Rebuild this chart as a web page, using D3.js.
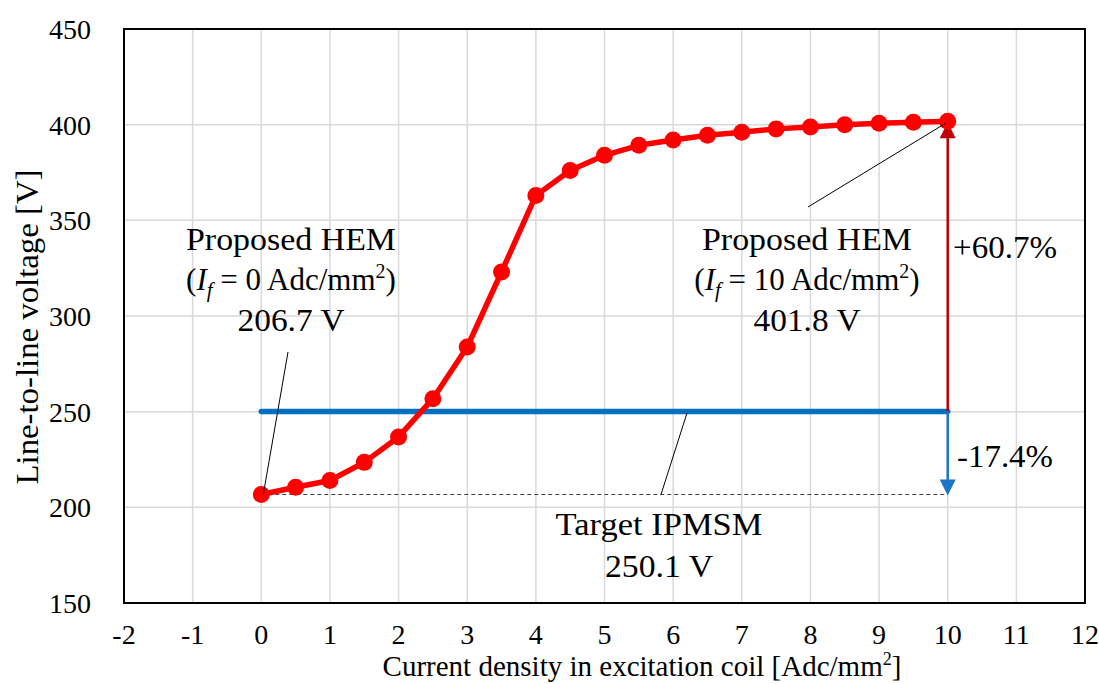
<!DOCTYPE html>
<html>
<head>
<meta charset="utf-8">
<script src="https://cdn.jsdelivr.net/npm/d3@7"></script>
<style>
  body { margin:0; background:white; }
</style>
</head>
<body>
<div id="graph-container"></div>
<script>
// data
const currentDensity = [0,0.5,1,1.5,2,2.5,3,3.5,4,4.5,5,5.5,6,6.5,7,7.5,8,8.5,9,9.5,10]
const lineVoltage = [206.7,210.5,214,223.5,236.8,256.8,283.8,323,363,376,384,389.2,392,394.5,396,397.8,398.8,400,400.8,401.3,401.8]
const xTicks = [-2,-1,0,1,2,3,4,5,6,7,8,9,10,11,12]
const yTicks = [150,200,250,300,350,400,450]
const targetVoltage = 250.1
const hemZero = 206.7
const hemTen = 401.8

const main = () => {
  const width = 1099
  const height = 684
  const FONT = 'Liberation Serif, Times New Roman, DejaVu Serif, serif'
  const RED = '#ff0000'
  const BLUE = '#0070c0'
  const DARK_RED = '#c00000'

  const plot = { left:124, right:1085, top:29, bottom:603 }

  const svg = d3.select('#graph-container').append('svg')
                .attr('width',width)
                .attr('height',height)
                .attr('font-family',FONT)
                .attr('style','background:white')

  const xScale = d3.scaleLinear().domain([-2,12]).range([plot.left,plot.right])
  const yScale = d3.scaleLinear().domain([150,450]).range([plot.bottom,plot.top])

  // grid
  svg.append('g').selectAll('line.vgrid')
     .data(xTicks)
     .join('line')
     .attr('class','vgrid')
     .attr('x1',d => xScale(d)).attr('x2',d => xScale(d))
     .attr('y1',plot.top).attr('y2',plot.bottom)
     .attr('stroke','#d9d9d9').attr('stroke-width',1.5)

  svg.append('g').selectAll('line.hgrid')
     .data(yTicks)
     .join('line')
     .attr('class','hgrid')
     .attr('x1',plot.left).attr('x2',plot.right)
     .attr('y1',d => yScale(d)).attr('y2',d => yScale(d))
     .attr('stroke','#d9d9d9').attr('stroke-width',1.5)

  // frame
  svg.append('rect')
     .attr('x',plot.left).attr('y',plot.top)
     .attr('width',plot.right-plot.left).attr('height',plot.bottom-plot.top)
     .attr('fill','none').attr('stroke','black').attr('stroke-width',2)

  // tick labels
  svg.append('g').selectAll('text.xtick')
     .data(xTicks)
     .join('text')
     .attr('class','xtick')
     .attr('x',d => xScale(d))
     .attr('y',644)
     .attr('text-anchor','middle')
     .attr('font-size',28)
     .text(d => d)

  svg.append('g').selectAll('text.ytick')
     .data(yTicks)
     .join('text')
     .attr('class','ytick')
     .attr('x',91)
     .attr('y',d => yScale(d)+10)
     .attr('text-anchor','end')
     .attr('font-size',28)
     .text(d => d)

  // axis titles
  const xTitle = svg.append('text')
     .attr('x',642)
     .attr('y',676)
     .attr('text-anchor','middle')
     .attr('font-size',29)
  xTitle.append('tspan').text('Current density in excitation coil [Adc/mm')
  xTitle.append('tspan').attr('font-size',18).attr('dy',-11).text('2')
  xTitle.append('tspan').attr('dy',11).text(']')

  svg.append('text')
     .attr('transform',`translate(38,327) rotate(-90)`)
     .attr('text-anchor','middle')
     .attr('font-size',31)
     .attr('textLength',315)
     .attr('lengthAdjust','spacingAndGlyphs')
     .text('Line-to-line voltage [V]')

  // target line (blue)
  svg.append('line')
     .attr('x1',xScale(0)).attr('x2',xScale(10))
     .attr('y1',yScale(targetVoltage)).attr('y2',yScale(targetVoltage))
     .attr('stroke',BLUE).attr('stroke-width',5.5).attr('stroke-linecap','round')

  // dashed reference at HEM 0
  svg.append('line')
     .attr('x1',xScale(0)).attr('x2',xScale(10))
     .attr('y1',yScale(hemZero)).attr('y2',yScale(hemZero))
     .attr('stroke','#404040').attr('stroke-width',1).attr('stroke-dasharray','4,3')

  // arrows at x=10
  const ax = xScale(10)
  svg.append('line')
     .attr('x1',ax).attr('x2',ax)
     .attr('y1',yScale(targetVoltage)).attr('y2',yScale(hemTen)+14)
     .attr('stroke',DARK_RED).attr('stroke-width',2.5)
  svg.append('path')
     .attr('d',`M${ax} ${yScale(hemTen)+1} L${ax+8} ${yScale(hemTen)+17} L${ax-8} ${yScale(hemTen)+17} Z`)
     .attr('fill',DARK_RED)

  svg.append('line')
     .attr('x1',ax).attr('x2',ax)
     .attr('y1',yScale(targetVoltage)).attr('y2',yScale(hemZero)-14)
     .attr('stroke','#1a75c9').attr('stroke-width',2.5)
  svg.append('path')
     .attr('d',`M${ax} ${yScale(hemZero)+1} L${ax+8} ${yScale(hemZero)-15} L${ax-8} ${yScale(hemZero)-15} Z`)
     .attr('fill','#1a75c9')

  // red curve
  const data = currentDensity.map((x,i) => ({x:x, y:lineVoltage[i]}))
  const line = d3.line().x(d => xScale(d.x)).y(d => yScale(d.y))
  svg.append('path')
     .datum(data)
     .attr('d',line)
     .attr('fill','none')
     .attr('stroke',RED).attr('stroke-width',5.5).attr('stroke-linejoin','round')

  svg.append('g').selectAll('circle.pt')
     .data(data)
     .join('circle')
     .attr('class','pt')
     .attr('cx',d => xScale(d.x))
     .attr('cy',d => yScale(d.y))
     .attr('r',8.5)
     .attr('fill',RED)

  // leader lines
  const leaders = [
    [288,352,xScale(0)+2,yScale(hemZero)],
    [808,207,xScale(10)-2,yScale(hemTen)+2],
    [687,413,661,yScale(hemZero)]
  ]
  svg.append('g').selectAll('line.leader')
     .data(leaders)
     .join('line')
     .attr('class','leader')
     .attr('x1',d => d[0]).attr('y1',d => d[1])
     .attr('x2',d => d[2]).attr('y2',d => d[3])
     .attr('stroke','black').attr('stroke-width',1)

  // annotations
  const fitText = (x,y,len,txt,anchor) => svg.append('text')
     .attr('x',x).attr('y',y)
     .attr('font-size',31)
     .attr('text-anchor',anchor || 'middle')
     .attr('textLength',len)
     .attr('lengthAdjust','spacingAndGlyphs')
     .text(txt)

  const hemLabel = (cx,val,valText) => {
    fitText(cx,250,210,'Proposed HEM')
    const t = svg.append('text').attr('x',cx).attr('y',290)
                 .attr('font-size',31).attr('text-anchor','middle')
    t.append('tspan').text('(')
    t.append('tspan').attr('font-style','italic').text('I')
    t.append('tspan').attr('font-style','italic').attr('font-size',21).attr('dy',7).text('f')
    t.append('tspan').attr('dy',-7).text(` = ${val} Adc/mm`)
    t.append('tspan').attr('font-size',20).attr('dy',-12).text('2')
    t.append('tspan').attr('dy',12).text(')')
    fitText(cx,331,107,valText)
  }
  hemLabel(291,0,`${hemZero} V`)
  hemLabel(807,10,`${hemTen} V`)

  fitText(953,258,104,`+${((hemTen/targetVoltage-1)*100).toFixed(1)}%`,'start')
  fitText(957,467,96,`-${((1-hemZero/targetVoltage)*100).toFixed(1)}%`,'start')

  fitText(659,535,207,'Target IPMSM')
  fitText(659,577,108,`${targetVoltage} V`)
}

main()
</script>
</body>
</html>
